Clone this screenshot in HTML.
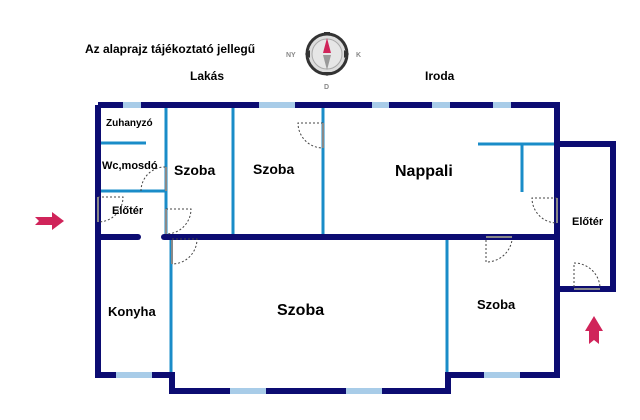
<!DOCTYPE html>
<html><head><meta charset="utf-8"><style>
body{margin:0;background:#fff}
svg{display:block}
text{font-family:"Liberation Sans",sans-serif;font-weight:bold;fill:#000}
</style></head><body>
<svg width="640" height="420" viewBox="0 0 640 420">
<rect width="640" height="420" fill="#fff"/>
<text x="85" y="53" font-size="12">Az alaprajz tájékoztató jellegű</text>
<text x="190" y="80" font-size="12">Lakás</text>
<text x="425" y="80" font-size="12">Iroda</text>
<g>
<circle cx="327" cy="54" r="20" fill="#ddd" stroke="#333" stroke-width="3"/>
<circle cx="327" cy="54" r="15" fill="#e6e6e6" stroke="#aaa" stroke-width="1"/>
<polygon points="327,38 323,53 331,53" fill="#d0245a"/>
<polygon points="327,70 323,55 331,55" fill="#999"/>
<polygon points="305,54 310,50 310,58" fill="#333"/>
<polygon points="349,54 344,50 344,58" fill="#333"/>
<polygon points="327,76 323,72 331,72" fill="#333"/>
<rect x="324" y="32" width="6" height="3" fill="#333"/>
<text x="286" y="57" font-size="7" style="fill:#888">NY</text>
<text x="356" y="57" font-size="7" style="fill:#888">K</text>
<text x="324" y="89" font-size="7" style="fill:#888">D</text>
</g>
<g stroke="#1a8cc8" stroke-width="3" fill="none">
<line x1="166" y1="105" x2="166" y2="237"/>
<line x1="99" y1="143" x2="146" y2="143"/>
<line x1="99" y1="191" x2="166" y2="191"/>
<line x1="233" y1="105" x2="233" y2="237"/>
<line x1="323" y1="105" x2="323" y2="237"/>
<line x1="478" y1="144" x2="557" y2="144"/>
<line x1="522" y1="144" x2="522" y2="192"/>
<line x1="171" y1="237" x2="171" y2="375"/>
<line x1="447" y1="237" x2="447" y2="375"/>
</g>
<g stroke="#0c0c72" stroke-width="6" fill="none" stroke-linejoin="miter">
<polyline points="98,105 557,105 557,375 448,375 448,391 172,391 172,375 98,375 98,105"/>
<polyline points="557,144 613,144 613,289 557,289"/>
<line x1="98" y1="237" x2="138" y2="237" stroke-linecap="round"/>
<line x1="164" y1="237" x2="557" y2="237" stroke-linecap="round"/>
</g>
<g fill="#a8cce8">
<rect x="123" y="102" width="18" height="6"/>
<rect x="259" y="102" width="36" height="6"/>
<rect x="372" y="102" width="17" height="6"/>
<rect x="432" y="102" width="18" height="6"/>
<rect x="493" y="102" width="18" height="6"/>
<rect x="116" y="372" width="36" height="6"/>
<rect x="230" y="388" width="36" height="6"/>
<rect x="346" y="388" width="36" height="6"/>
<rect x="484" y="372" width="36" height="6"/>
</g>
<g stroke="#444" stroke-width="1" stroke-dasharray="2,2" fill="none">
<path d="M323,123 L298,123 A25,25 0 0 0 323,148"/>
<path d="M141,191 A24,24 0 0 1 166,167"/>
<path d="M98,197 L123,197 A25,25 0 0 1 98,222"/>
<path d="M166,209 L191,209 A25,25 0 0 1 166,234"/>
<path d="M172,239 L197,239 A25,25 0 0 1 172,264"/>
<path d="M557,198 L532,198 A25,25 0 0 0 557,223"/>
<path d="M486,240 L486,262 A26,26 0 0 0 512,240"/>
<path d="M574,287 L574,263 A26,26 0 0 1 600,287"/>
</g>
<g stroke="#888" stroke-width="2">
<line x1="323" y1="123" x2="323" y2="148"/>
<line x1="166" y1="167" x2="166" y2="191"/>
<line x1="98" y1="197" x2="98" y2="222"/>
<line x1="166" y1="209" x2="166" y2="234"/>
<line x1="172" y1="240" x2="172" y2="264"/>
<line x1="557" y1="198" x2="557" y2="223"/>
<line x1="486" y1="237" x2="512" y2="237"/>
<line x1="574" y1="289" x2="600" y2="289"/>
</g>
<polygon points="35,217 52,217 52,212 64,221 52,230 52,225 35,225 39,221" fill="#d0245a"/>
<polygon points="589,344 589,331 585,331 594,316 603,331 599,331 599,344 594,340" fill="#d0245a"/>
<text x="106" y="126" font-size="10">Zuhanyzó</text>
<text x="102" y="169" font-size="11">Wc,mosdó</text>
<text x="112" y="214" font-size="11">Előtér</text>
<text x="174" y="175" font-size="14">Szoba</text>
<text x="253" y="174" font-size="14">Szoba</text>
<text x="395" y="176" font-size="16">Nappali</text>
<text x="572" y="225" font-size="11">Előtér</text>
<text x="108" y="316" font-size="13">Konyha</text>
<text x="277" y="315" font-size="16">Szoba</text>
<text x="477" y="309" font-size="13">Szoba</text>
</svg>
</body></html>
